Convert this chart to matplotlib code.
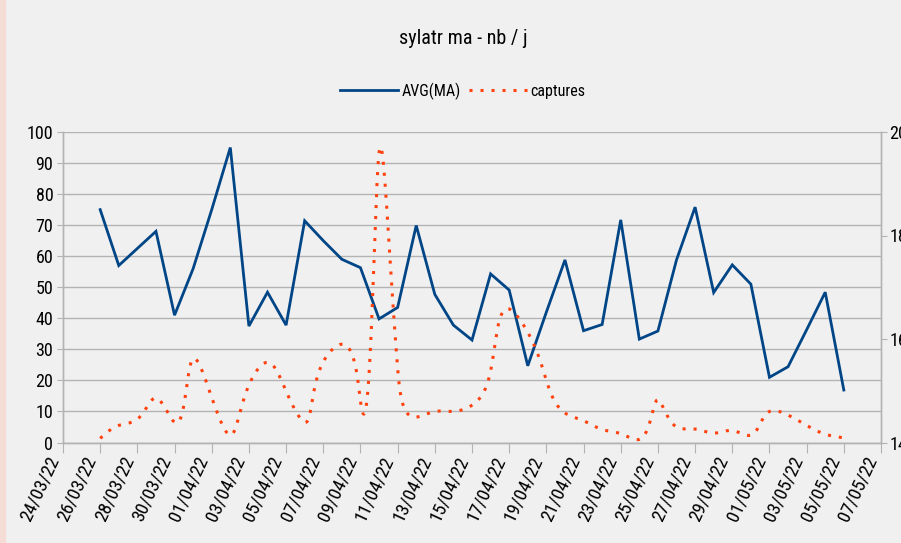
import numpy as np
import pandas as pd
import matplotlib
matplotlib.use("Agg")
import matplotlib.pyplot as plt
import matplotlib.dates as mdates
from matplotlib.patches import Rectangle

plt.rcParams['font.family'] = ['Roboto Condensed', 'DejaVu Sans']

# Data (one value per day, 26/03/22 -> 05/05/22)
dates = pd.date_range("2022-03-26", "2022-05-05", freq="D")
avg_ma = [75, 57, 62.5, 68, 41, 56, 75, 95, 37.5, 48.4,
          37.8, 71.4, 65, 59, 56.3, 39.8, 43.5, 69.9, 47.7, 37.8,
          33, 54.3, 49.1, 24.7, 42, 58.8, 36, 38, 71.7, 33.3,
          35.9, 58.8, 75.8, 48.3, 57.2, 51, 21, 24.4, 36.3, 48.4,
          16.9]
captures = [140.8, 143.3, 144.5, 148.6, 143.9, 156.2, 148.7, 141.4, 151.1, 155.5,
            149.9, 143.9, 155.6, 159.0, 148.0, 196.0, 154.4, 144.9, 146.0, 146.0,
            147.2, 153.8, 165.8, 161.3, 152.0, 145.7, 144.2, 142.5, 141.7, 140.6,
            148.3, 143.0, 142.6, 141.8, 142.3, 141.4, 146.0, 145.3, 143.3, 141.6,
            140.9]

title = "sylatr ma - nb / j"
blue = "#004586"
orange = "#ff420e"
grid_col = "#b3b3b3"
bg = "#f0f0f0"


def natural_coeffs(t, v):
    k = len(t)
    h = np.diff(t)
    A = np.zeros((k, k))
    r = np.zeros(k)
    A[0, 0] = A[-1, -1] = 1
    for i in range(1, k - 1):
        A[i, i - 1] = h[i - 1]
        A[i, i] = 2 * (h[i - 1] + h[i])
        A[i, i + 1] = h[i]
        r[i] = 3 * ((v[i + 1] - v[i]) / h[i] - (v[i] - v[i - 1]) / h[i - 1])
    c = np.linalg.solve(A, r)
    b = (v[1:] - v[:-1]) / h - h * (2 * c[:-1] + c[1:]) / 3
    d = (c[1:] - c[:-1]) / (3 * h)
    return b, c, d


def parametric_spline(px, py, n=3000):
    # parametric natural cubic spline (chord-length), as the office chart smoothing
    t = np.concatenate([[0], np.cumsum(np.hypot(np.diff(px), np.diff(py)))])
    tt = np.linspace(0, t[-1], n)
    idx = np.clip(np.searchsorted(t, tt) - 1, 0, len(t) - 2)
    u = tt - t[idx]
    out = []
    for v in (px, py):
        b, c, d = natural_coeffs(t, v)
        out.append(v[idx] + b[idx] * u + c[idx] * u ** 2 + d[idx] * u ** 3)
    return out


fig = plt.figure(figsize=(9.01, 5.43), dpi=100, facecolor=bg)
fig.patches.append(Rectangle((0, 0), 5 / 901, 1, transform=fig.transFigure,
                             color="#f5ddd6", zorder=0))

ax = fig.add_axes([63 / 901, 1 - 442.5 / 543, 818 / 901, 310.5 / 543])
ax.set_facecolor(bg)
ax2 = ax.twinx()

ax.set_xlim(mdates.date2num(pd.Timestamp("2022-03-24")),
            mdates.date2num(pd.Timestamp("2022-05-07")))
ax.set_ylim(0, 100)
ax.set_yticks(np.arange(0, 101, 10))
ax2.set_ylim(140, 200)
ax2.set_yticks([140, 160, 180, 200])

xnum = mdates.date2num(dates)
l1, = ax.plot(xnum, avg_ma, color=blue, lw=2.0, solid_joinstyle='miter', zorder=3)

# smooth the captures line in display space, then map back to data
disp = ax2.transData.transform(np.column_stack([xnum, captures]))
sx, sy = parametric_spline(disp[:, 0], disp[:, 1])
smooth = ax2.transData.inverted().transform(np.column_stack([sx, sy]))
l2, = ax2.plot(smooth[:, 0], smooth[:, 1], color=orange, lw=2.2,
               linestyle=(0, (1, 2.6)), zorder=3)

ax.set_xticks(mdates.date2num(pd.date_range("2022-03-24", "2022-05-07", freq="2D")))
ax.xaxis.set_major_formatter(mdates.DateFormatter("%d/%m/%y"))

ax.grid(axis='y', color=grid_col, lw=1.0)
ax.set_axisbelow(True)
for a in (ax, ax2):
    a.spines['top'].set_visible(False)
    for s in ('left', 'right', 'bottom'):
        a.spines[s].set_color(grid_col)
        a.spines[s].set_linewidth(1.0)

ax.tick_params(axis='y', length=4, color=grid_col, pad=3, labelsize=13)
ax.tick_params(axis='x', length=7, color=grid_col, pad=1, labelsize=13.5)
ax2.tick_params(axis='y', length=4, color=grid_col, pad=2, labelsize=13)
for lab in ax.get_xticklabels():
    lab.set_rotation(65)
    lab.set_ha('right')
    lab.set_va('top')

fig.text(463 / 901, 1 - 38 / 543, title, ha='center', va='center', fontsize=14.5)
fig.legend([l1, l2], ["AVG(MA)", "captures"], loc='center', ncol=2,
           bbox_to_anchor=(463 / 901, 1 - 91 / 543), frameon=False,
           fontsize=11.5, handlelength=3.6, handletextpad=0.25, columnspacing=0.5)

fig.savefig("out.png", dpi=100, facecolor=bg)
